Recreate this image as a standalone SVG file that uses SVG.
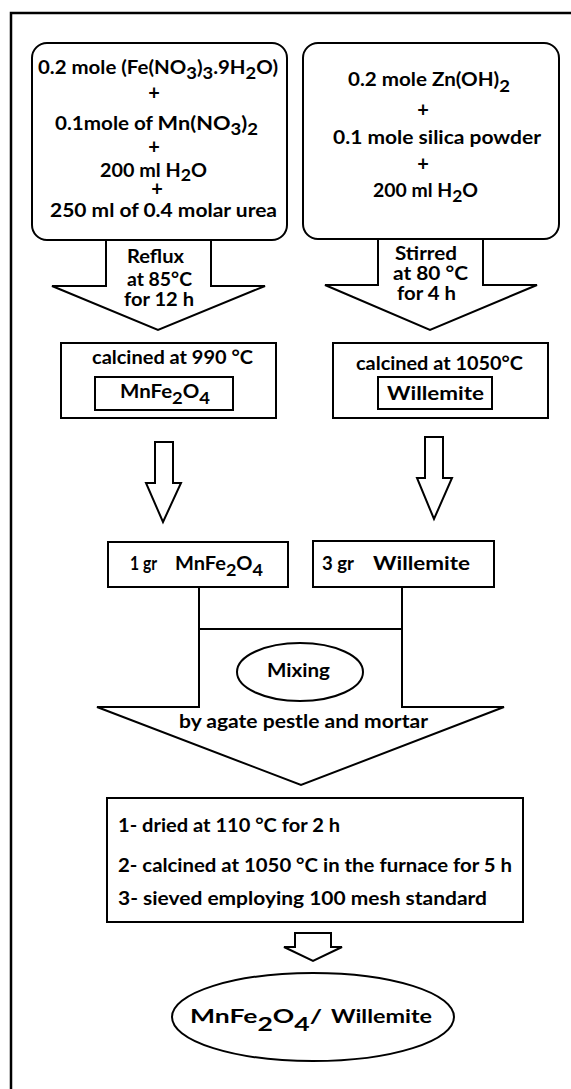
<svg xmlns="http://www.w3.org/2000/svg" width="571" height="1089" viewBox="0 0 571 1089">
<style>
.t { font-family: Lato, "Liberation Sans", sans-serif; font-weight: 700; fill: #000; font-size: 18.5px; }
.p { font-family: Lato, "Liberation Sans", sans-serif; font-weight: 700; fill: #000; font-size: 20px; text-anchor: middle; }
.sub { font-size: 0.9em; }
.box { fill: #fff; stroke: #000; stroke-width: 2; }
.ln { fill: none; stroke: #000; stroke-width: 2; }
</style>
<rect width="571" height="1089" fill="#fff"/>
<path d="M11,1089 V13 H571" fill="none" stroke="#000" stroke-width="2.5"/>

<g id="connectors">
  <polygon class="box" points="106,240 211,240 211,286 265,286 158,330 52,286 106,286"/>
  <polygon class="box" points="378,239 483,239 483,285 537,285 430,330 325,285 378,285"/>
  <polygon class="box" points="155,442 173,442 173,483 181,483 163,522 146,483 155,483"/>
  <polygon class="box" points="425,437 443,437 443,478 452,478 434,519 417,478 425,478"/>
  <path class="ln" d="M199,587 V707 H97 L301,785 L504,707 H402 V587 M199,629 H402"/>
  <polygon class="box" points="295,933 331,933 331,947 342,947 313,961 284,947 295,947"/>
  <text class="t" x="127" y="263" textLength="57" lengthAdjust="spacingAndGlyphs">Reflux</text>
  <text class="t" x="127" y="286" textLength="65" lengthAdjust="spacingAndGlyphs">at 85°C</text>
  <text class="t" x="124" y="306" textLength="70" lengthAdjust="spacingAndGlyphs">for 12 h</text>
  <text class="t" x="395" y="260" textLength="62" lengthAdjust="spacingAndGlyphs">Stirred</text>
  <text class="t" x="393" y="280" textLength="75" lengthAdjust="spacingAndGlyphs">at 80 °C</text>
  <text class="t" x="397" y="300" textLength="59" lengthAdjust="spacingAndGlyphs">for 4 h</text>
  <text class="t" x="179" y="728" font-size="19.5" textLength="249" lengthAdjust="spacingAndGlyphs">by agate pestle and mortar</text>
</g>

<g id="precursor-mnfe">
  <rect class="box" x="32" y="43" width="255" height="197" rx="15"/>
  <text class="t" x="38" y="74" textLength="240" lengthAdjust="spacingAndGlyphs">0.2 mole (Fe(NO<tspan class="sub" dy="5">3</tspan><tspan dy="-5">)</tspan><tspan class="sub" dy="5">3</tspan><tspan dy="-5">.9H</tspan><tspan class="sub" dy="5">2</tspan><tspan dy="-5">O)</tspan></text>
  <text class="p" x="154" y="100">+</text>
  <text class="t" x="55" y="130" textLength="203" lengthAdjust="spacingAndGlyphs">0.1mole of <tspan font-size="19.5">Mn(NO</tspan><tspan class="sub" font-size="19.5" dy="5">3</tspan><tspan font-size="19.5" dy="-5">)</tspan><tspan class="sub" font-size="19.5" dy="5">2</tspan></text>
  <text class="p" x="154" y="154">+</text>
  <text class="t" x="100" y="177" textLength="107" lengthAdjust="spacingAndGlyphs">200 ml H<tspan class="sub" dy="4">2</tspan><tspan dy="-4">O</tspan></text>
  <text class="p" x="157" y="196">+</text>
  <text class="t" x="50" y="217" textLength="227" lengthAdjust="spacingAndGlyphs">250 ml of 0.4 molar urea</text>
</g>

<g id="precursor-willemite">
  <rect class="box" x="303" y="43" width="256" height="196" rx="15"/>
  <text class="t" x="348" y="86" textLength="162" lengthAdjust="spacingAndGlyphs">0.2 mole Zn(OH)<tspan class="sub" dy="6">2</tspan></text>
  <text class="p" x="423" y="117">+</text>
  <text class="t" x="333" y="144" textLength="208" lengthAdjust="spacingAndGlyphs">0.1 mole silica powder</text>
  <text class="p" x="423" y="171">+</text>
  <text class="t" x="373" y="197" textLength="105" lengthAdjust="spacingAndGlyphs">200 ml H<tspan class="sub" dy="5">2</tspan><tspan dy="-5">O</tspan></text>
</g>

<g id="calcined-mnfe">
  <rect class="box" x="61" y="343" width="215" height="75"/>
  <text class="t" x="92" y="364" textLength="161" lengthAdjust="spacingAndGlyphs">calcined at 990 °C</text>
  <rect class="box" x="95" y="377" width="138" height="33"/>
  <text class="t" x="120" y="398" font-size="19.5" textLength="90" lengthAdjust="spacingAndGlyphs">MnFe<tspan class="sub" dy="6">2</tspan><tspan dy="-6">O</tspan><tspan class="sub" dy="6">4</tspan></text>
</g>

<g id="calcined-willemite">
  <rect class="box" x="333" y="343" width="215" height="75"/>
  <text class="t" x="356" y="370" textLength="167" lengthAdjust="spacingAndGlyphs">calcined at 1050°C</text>
  <rect class="box" x="378" y="377" width="114" height="32"/>
  <text class="t" x="387" y="400" font-size="21" textLength="97" lengthAdjust="spacingAndGlyphs">Willemite</text>
</g>

<g id="mnfe-1gr">
  <rect class="box" x="108" y="542" width="180" height="45"/>
  <text class="t" x="130" y="570" textLength="27" lengthAdjust="spacingAndGlyphs">1 gr</text>
  <text class="t" x="175" y="570" font-size="21" textLength="88" lengthAdjust="spacingAndGlyphs">MnFe<tspan class="sub" dy="6">2</tspan><tspan dy="-6">O</tspan><tspan class="sub" dy="6">4</tspan></text>
</g>

<g id="willemite-3gr">
  <rect class="box" x="313" y="541" width="181" height="46"/>
  <text class="t" x="322" y="570" textLength="32" lengthAdjust="spacingAndGlyphs">3 gr</text>
  <text class="t" x="373" y="570" font-size="21" textLength="97" lengthAdjust="spacingAndGlyphs">Willemite</text>
</g>

<g id="mixing">
  <ellipse class="box" cx="300" cy="672" rx="63" ry="29"/>
  <text class="t" x="267" y="677" font-size="20" textLength="63" lengthAdjust="spacingAndGlyphs">Mixing</text>
</g>

<g id="treatment">
  <rect class="box" x="107" y="798" width="416" height="124"/>
  <text class="t" x="118" y="832" font-size="20.5" textLength="222" lengthAdjust="spacingAndGlyphs">1- dried at 110 °C for 2 h</text>
  <text class="t" x="118" y="872" font-size="20.5" textLength="394" lengthAdjust="spacingAndGlyphs">2- calcined at 1050 °C in the furnace for 5 h</text>
  <text class="t" x="118" y="905" font-size="20.5" textLength="369" lengthAdjust="spacingAndGlyphs">3- sieved employing 100 mesh standard</text>
</g>

<g id="product">
  <ellipse class="box" cx="313" cy="1017" rx="141" ry="44"/>
  <text class="t" x="190" y="1023" font-size="29" textLength="132" lengthAdjust="spacingAndGlyphs">MnFe<tspan dy="8">2</tspan><tspan dy="-8">O</tspan><tspan dy="8">4</tspan><tspan dy="-8">/</tspan></text>
  <text class="t" x="331" y="1023" font-size="21.5" textLength="101" lengthAdjust="spacingAndGlyphs">Willemite</text>
</g>
</svg>
